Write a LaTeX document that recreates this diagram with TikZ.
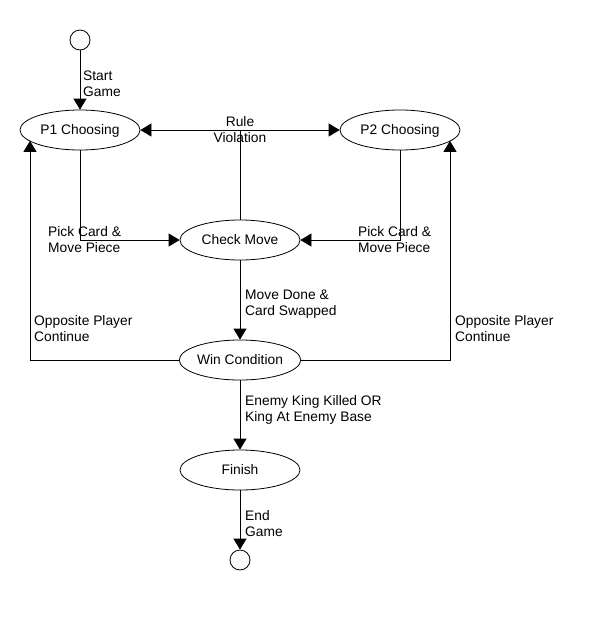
\documentclass[tikz,border=0pt]{standalone}
\usepackage{fontspec}
\setmainfont{Liberation Sans}
\usetikzlibrary{arrows.meta,shapes.geometric}
\begin{document}
\begin{tikzpicture}[x=1pt,y=-1pt,
  every node/.style={font=\fontsize{13.8}{16}\selectfont},
  state/.style={draw,ellipse,minimum width=120pt,minimum height=40pt,inner sep=0pt,line width=0.8pt,text height=9.9pt,text depth=0pt},
  term/.style={draw,circle,minimum size=20pt,inner sep=0pt,line width=0.8pt},
  lbl/.style={anchor=west,align=left,inner sep=0pt},
  conn/.style={line width=0.8pt,-{Triangle[length=11pt,width=13pt]}},
  plain/.style={line width=0.8pt}]
\useasboundingbox (0,0) rectangle (590,630);
\node[term] (start) at (80,40) {};
\node[state] (p1) at (80,130) {P1 Choosing};
\node[state] (p2) at (400,130) {P2 Choosing};
\node[state] (check) at (240,240) {Check Move};
\node[state] (win) at (240,360) {Win Condition};
\node[state] (finish) at (240,470) {Finish};
\node[term] (end) at (240,560) {};
\coordinate (rv) at (240,130);
\coordinate (pl) at (80,240);
\coordinate (pr) at (400,240);
\coordinate (wl) at (30,360);
\coordinate (wr) at (450,360);

\draw[conn] (start) -- (p1);
\draw[plain] (check.north) -- (rv);
\draw[conn] (rv) -- (p1);
\draw[conn] (rv) -- (p2);
\draw[conn] (p1.south) -- (pl) -- (check);
\draw[conn] (p2.south) -- (pr) -- (check);
\draw[conn] (check) -- (win);
\draw[conn] (win.west) -- (wl) -- (wl |- p1.192.4);
\draw[conn] (win.east) -- (wr) -- (wr |- p2.-12.4);
\draw[conn] (win) -- (finish);
\draw[conn] (finish) -- (end);

\node[lbl] (l1) at (83,84) {Start\\Game};
\node[align=center,inner sep=0pt] (l2) at (240,130) {Rule\\Violation};
\node[lbl] (l3) at (48,240) {Pick Card \&\\Move Piece};
\node[lbl] (l4) at (358,240) {Pick Card \&\\Move Piece};
\node[lbl] (l5) at (245,304) {Move Done \&\\Card Swapped};
\node[lbl] (l6) at (34,329) {Opposite Player\\Continue};
\node[lbl] (l7) at (455,329) {Opposite Player\\Continue};
\node[lbl] (l8) at (245,410) {Enemy King Killed OR\\King At Enemy Base};
\node[lbl] (l9) at (245,524) {End\\Game};
\end{tikzpicture}
\end{document}
